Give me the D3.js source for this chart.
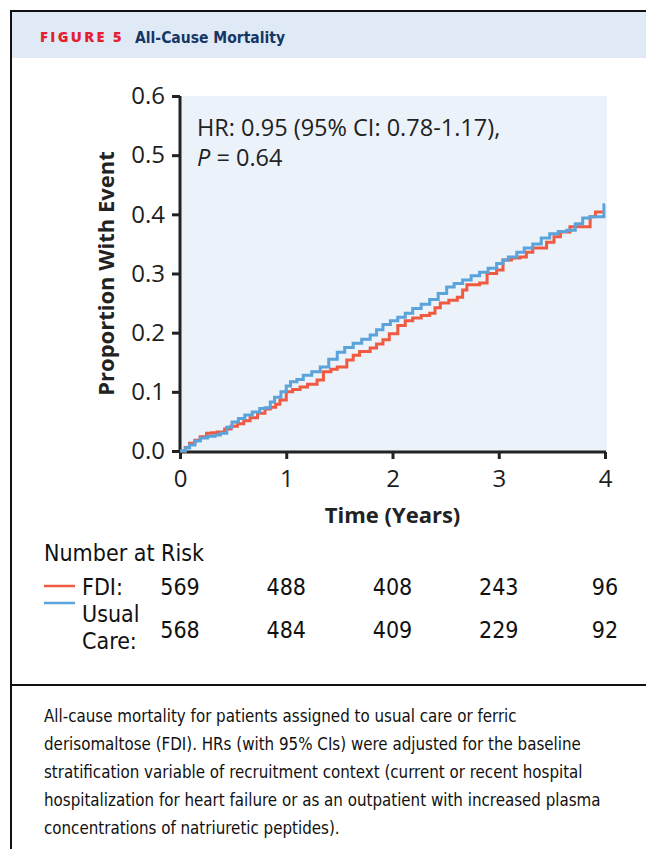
<!DOCTYPE html>
<html>
<head>
<meta charset="utf-8">
<script src="https://cdn.jsdelivr.net/npm/d3@7"></script>
<style>
  body { margin: 0; background: #fff; }
  svg { display: block; }
</style>
</head>
<body>
<script>
// Kaplan-Meier style cumulative event curves, [years, proportion]
var usualCare = [
  [0, 0], [0.05, 0.005], [0.09, 0.010], [0.14, 0.017], [0.19, 0.022], [0.26, 0.025],
  [0.33, 0.027], [0.38, 0.030], [0.44, 0.040], [0.49, 0.049], [0.55, 0.055], [0.61, 0.061],
  [0.68, 0.066], [0.75, 0.072], [0.80, 0.073], [0.85, 0.083], [0.89, 0.091], [0.95, 0.100],
  [1.00, 0.110], [1.04, 0.117], [1.10, 0.121], [1.16, 0.128], [1.24, 0.134], [1.32, 0.142],
  [1.40, 0.155], [1.48, 0.167], [1.55, 0.175], [1.63, 0.182], [1.71, 0.189], [1.79, 0.196],
  [1.85, 0.205], [1.91, 0.214], [1.98, 0.220], [2.05, 0.226], [2.12, 0.233], [2.19, 0.241],
  [2.27, 0.248], [2.35, 0.256], [2.43, 0.266], [2.51, 0.277], [2.58, 0.283], [2.66, 0.289],
  [2.74, 0.296], [2.82, 0.302], [2.90, 0.309], [2.98, 0.317], [3.04, 0.323], [3.09, 0.328],
  [3.17, 0.336], [3.24, 0.343], [3.32, 0.350], [3.40, 0.360], [3.48, 0.367], [3.56, 0.371],
  [3.64, 0.373], [3.72, 0.384], [3.79, 0.394], [3.86, 0.396], [3.99, 0.416], [4.0, 0.416]
];
var fdi = [
  [0, 0], [0.05, 0.006], [0.09, 0.013], [0.14, 0.018], [0.19, 0.024], [0.25, 0.030],
  [0.30, 0.031], [0.35, 0.032], [0.42, 0.037], [0.48, 0.042], [0.54, 0.046], [0.60, 0.051],
  [0.66, 0.056], [0.73, 0.064], [0.80, 0.071], [0.85, 0.074], [0.90, 0.079], [0.94, 0.086],
  [1.00, 0.100], [1.06, 0.104], [1.13, 0.108], [1.20, 0.113], [1.29, 0.120], [1.35, 0.134],
  [1.42, 0.138], [1.48, 0.142], [1.57, 0.154], [1.63, 0.162], [1.69, 0.168], [1.79, 0.174],
  [1.85, 0.181], [1.91, 0.188], [1.97, 0.198], [2.05, 0.212], [2.12, 0.220], [2.19, 0.225],
  [2.27, 0.229], [2.35, 0.233], [2.40, 0.242], [2.45, 0.250], [2.53, 0.255], [2.61, 0.260],
  [2.66, 0.272], [2.70, 0.281], [2.82, 0.284], [2.89, 0.300], [2.98, 0.306], [3.04, 0.323],
  [3.12, 0.326], [3.20, 0.328], [3.26, 0.336], [3.32, 0.343], [3.45, 0.353], [3.52, 0.362],
  [3.58, 0.370], [3.67, 0.379], [3.83, 0.379], [3.86, 0.396], [3.91, 0.404], [4.0, 0.404]
];

var xTicks = [0, 1, 2, 3, 4];
var yTicks = [0, 0.1, 0.2, 0.3, 0.4, 0.5, 0.6];
var riskFDI = [569, 488, 408, 243, 96];
var riskUC = [568, 484, 409, 229, 92];

var captionLines = [
  'All-cause mortality for patients assigned to usual care or ferric',
  'derisomaltose (FDI). HRs (with 95% CIs) were adjusted for the baseline',
  'stratification variable of recruitment context (current or recent hospital',
  'hospitalization for heart failure or as an outpatient with increased plasma',
  'concentrations of natriuretic peptides).'
];

var red = '#f05a40', blue = '#5aa3db';
var chartFont = '"Open Sans", "Noto Sans", sans-serif';
var narrowFont = '"DejaVu Sans Condensed", "DejaVu Sans", sans-serif';

var svg = d3.select('body').append('svg')
    .attr('width', 646)
    .attr('height', 849);

//frame + header band
svg.append('rect').attr('x', 11).attr('y', 12).attr('width', 640).attr('height', 46)
    .attr('fill', '#dfeaf6');
svg.append('path').attr('d', 'M11,849V11H646').attr('fill', 'none')
    .attr('stroke', '#111').attr('stroke-width', 2);
svg.append('line').attr('x1', 11).attr('x2', 646).attr('y1', 685).attr('y2', 685)
    .attr('stroke', '#111').attr('stroke-width', 2);

svg.append('text').attr('x', 40).attr('y', 42)
    .attr('font-family', chartFont).attr('font-weight', 800).attr('font-size', 14.5)
    .attr('letter-spacing', 2.4).attr('fill', '#e4202e').text('FIGURE 5');
svg.append('text').attr('x', 135).attr('y', 43)
    .attr('font-family', narrowFont).attr('font-weight', 'bold').attr('font-size', 15.5)
    .attr('fill', '#163765').text('All-Cause Mortality');

//scales
var x = d3.scaleLinear().domain([0, 4]).range([180, 605]);
var y = d3.scaleLinear().domain([0, 0.6]).range([451, 96]);

svg.append('rect')
    .attr('x', x(0)).attr('y', y(0.6))
    .attr('width', x(4) - x(0) + 2).attr('height', y(0) - y(0.6))
    .attr('fill', '#ebf2fa');

//axes
var yAxis = svg.append('g')
    .attr('transform', 'translate(' + x(0) + ',0)')
    .call(d3.axisLeft(y).tickValues(yTicks).tickFormat(d3.format('.1f')).tickSize(8).tickPadding(7));
var xAxis = svg.append('g')
    .attr('transform', 'translate(0,' + (y(0) + 1) + ')')
    .call(d3.axisBottom(x).tickValues(xTicks).tickFormat(d3.format('d')).tickSize(7).tickPadding(11));

[xAxis, yAxis].forEach(function(g) {
    g.select('.domain').attr('stroke', '#222').attr('stroke-width', 3);
    g.selectAll('.tick line').attr('stroke', '#222').attr('stroke-width', 3);
    g.selectAll('.tick text').attr('font-family', chartFont).attr('font-size', 24).attr('fill', '#1e1e1e');
});
yAxis.select('.domain').attr('d', 'M0,' + y(0.6) + 'V' + (y(0) + 2));
xAxis.select('.domain').attr('d', 'M' + (x(0) - 1) + ',0H' + (x(4) + 1));

//curves
var line = d3.line()
    .x(function(d) { return x(d[0]); })
    .y(function(d) { return y(d[1]); })
    .curve(d3.curveStepAfter);

svg.append('path').datum(fdi).attr('d', line)
    .attr('fill', 'none').attr('stroke', red).attr('stroke-width', 3);
svg.append('path').datum(usualCare).attr('d', line)
    .attr('fill', 'none').attr('stroke', blue).attr('stroke-width', 3);

//axis titles
svg.append('text')
    .attr('transform', 'translate(114,' + y(0.3) + ') rotate(-90)')
    .attr('text-anchor', 'middle')
    .attr('font-family', chartFont).attr('font-weight', 'bold').attr('font-size', 22)
    .attr('fill', '#222').text('Proportion With Event');
svg.append('text')
    .attr('x', x(2)).attr('y', 523).attr('text-anchor', 'middle')
    .attr('font-family', chartFont).attr('font-weight', 'bold').attr('font-size', 22)
    .attr('fill', '#222').text('Time (Years)');

//HR annotation
var hr = svg.append('text').attr('font-family', chartFont).attr('font-size', 23.5).attr('fill', '#222');
hr.append('tspan').attr('x', 197).attr('y', 136).text('HR: 0.95 (95% CI: 0.78-1.17),');
var l2 = hr.append('tspan').attr('x', 197).attr('y', 166);
l2.append('tspan').attr('font-style', 'italic').text('P');
l2.append('tspan').text(' = 0.64');

//number at risk table
var tableSize = 23;
svg.append('text').attr('x', 44).attr('y', 561)
    .attr('font-family', narrowFont).attr('font-size', tableSize).attr('fill', '#111')
    .text('Number at Risk');

svg.append('line').attr('x1', 44).attr('x2', 75).attr('y1', 586).attr('y2', 586)
    .attr('stroke', red).attr('stroke-width', 2.5);
svg.append('line').attr('x1', 44).attr('x2', 75).attr('y1', 603).attr('y2', 603)
    .attr('stroke', blue).attr('stroke-width', 2.5);

var lbl = svg.append('g').attr('font-family', narrowFont).attr('font-size', tableSize).attr('fill', '#111');
lbl.append('text').attr('x', 82).attr('y', 595).text('FDI:');
lbl.append('text').attr('x', 82).attr('y', 622).text('Usual');
lbl.append('text').attr('x', 82).attr('y', 649).text('Care:');

svg.append('g').selectAll('text').data(riskFDI).enter().append('text')
    .attr('x', function(d, i) { return x(xTicks[i]); })
    .attr('y', 595)
    .attr('text-anchor', 'middle')
    .attr('font-family', narrowFont).attr('font-size', tableSize).attr('fill', '#111')
    .text(function(d) { return d; });
svg.append('g').selectAll('text').data(riskUC).enter().append('text')
    .attr('x', function(d, i) { return x(xTicks[i]); })
    .attr('y', 638)
    .attr('text-anchor', 'middle')
    .attr('font-family', narrowFont).attr('font-size', tableSize).attr('fill', '#111')
    .text(function(d) { return d; });

//caption
svg.append('g').selectAll('text').data(captionLines).enter().append('text')
    .attr('x', 44)
    .attr('y', function(d, i) { return 722 + i * 28; })
    .attr('font-family', narrowFont).attr('font-size', 16.8).attr('fill', '#111')
    .text(function(d) { return d; });
</script>
</body>
</html>
